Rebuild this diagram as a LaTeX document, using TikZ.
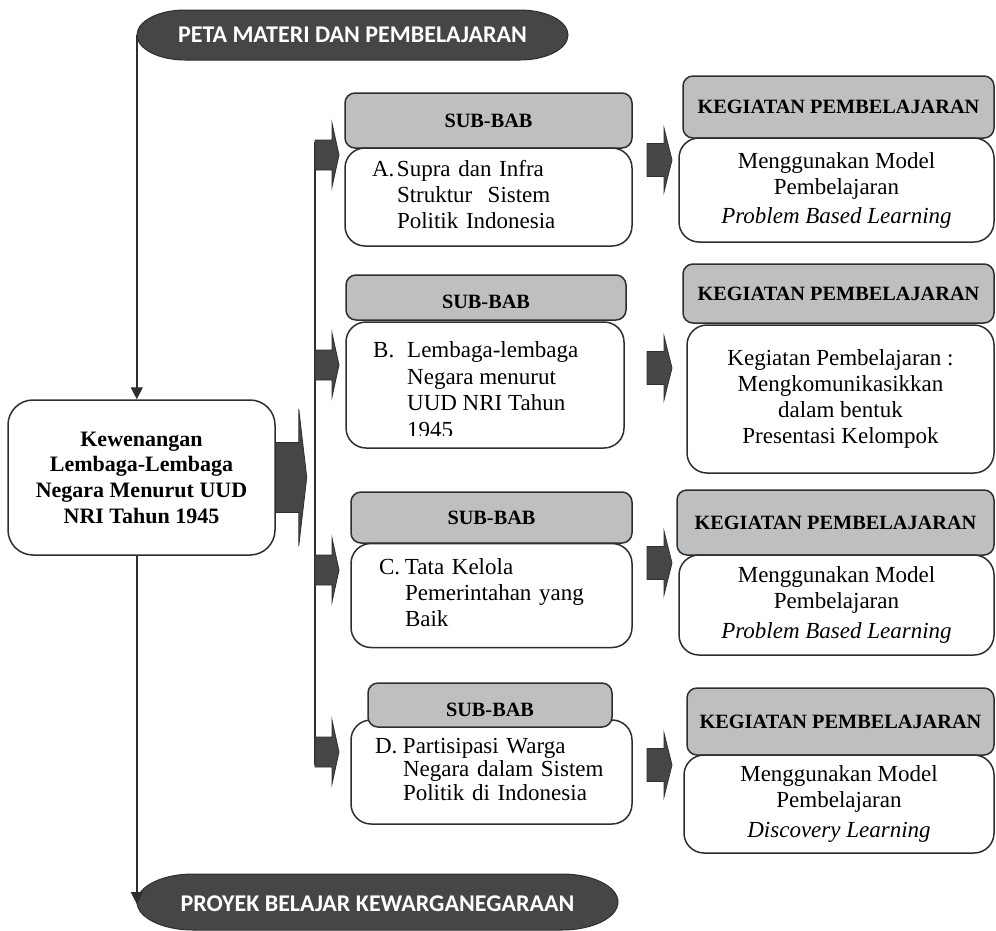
\documentclass[tikz,border=0pt]{standalone}
\usepackage{fontspec}
\setmainfont{Liberation Serif}
\newfontfamily\pitafont{Carlito}
\usepackage{tikz}
\usetikzlibrary{arrows.meta}

\definecolor{gelap}{HTML}{454648}
\definecolor{abu}{HTML}{BEBFC1}
\definecolor{garis}{HTML}{2E2E2E}

\tikzset{
    utama/.style={draw=garis, fill=white, line width=1.5pt, rounded corners=25pt,
        inner sep=0pt, align=center, font=\fontsize{22}{25.7}\selectfont\bfseries},
    kepala/.style={draw=garis, fill=abu, line width=1.5pt, rounded corners=10pt,
        inner sep=0pt, font=\fontsize{20.3}{24}\selectfont\bfseries},
    isi/.style={draw=garis, fill=white, line width=1.5pt, rounded corners=20pt,
        inner sep=0pt, align=center, font=\fontsize{23}{26}\selectfont},
    pitateks/.style={inner sep=0pt, text=white,
        font=\pitafont\fontsize{24}{28}\selectfont\bfseries},
    garispanah/.style={draw=garis, line width=1.4pt, -{Triangle[width=12pt,length=12pt]}},
}

% banner: x kiri, x kanan, y atas, y bawah, jari-jari x
\newcommand{\pita}[5]{%
  \filldraw[fill=gelap, draw=garis, line width=1pt]
    ({#1+#5},#3) -- ({#2-#5},#3)
    .. controls ({#2-0.4477*#5},#3) and (#2,{(#3+#4)/2-0.5523*(#4-#3)/2}) .. (#2,{(#3+#4)/2})
    .. controls (#2,{(#3+#4)/2+0.5523*(#4-#3)/2}) and ({#2-0.4477*#5},#4) .. ({#2-#5},#4)
    -- ({#1+#5},#4)
    .. controls ({#1+0.4477*#5},#4) and (#1,{(#3+#4)/2+0.5523*(#4-#3)/2}) .. (#1,{(#3+#4)/2})
    .. controls (#1,{(#3+#4)/2-0.5523*(#4-#3)/2}) and ({#1+0.4477*#5},#3) .. ({#1+#5},#3)
    -- cycle;}

% panah blok: titik awal, panjang batang, panjang kepala, setengah batang, setengah kepala
\newcommand{\panah}[5]{%
  \filldraw[fill=gelap, draw=garis, line width=0.8pt]
    (#1) ++(0,-#4) -- ++(#2,0) -- ++(0,{-(#5-#4)}) -- ++(#3,#5)
    -- ++(-#3,#5) -- ++(0,{-(#5-#4)}) -- ++(-#2,0) -- cycle;}

\newcommand{\butir}[3]{\begin{tabular}{@{}p{#2}@{}l@{}}#1&#3\end{tabular}}

\begin{document}
\begin{tikzpicture}[x=1pt, y=-1pt]
\useasboundingbox (0,0) rectangle (996,930);

% judul atas dan bawah
\pita{137}{568}{10}{60}{48}
\node[pitateks, minimum width=431pt, minimum height=50pt] (peta) at (352.5,35) {PETA MATERI DAN PEMBELAJARAN};
\pita{137}{618}{874}{930}{56}
\node[pitateks, minimum width=481pt, minimum height=56pt] (proyek) at (377.5,904) {PROYEK BELAJAR KEWARGANEGARAAN};

% kotak utama
\node[utama, minimum width=267pt, minimum height=155pt] (utama) at (141.5,477.5)
    {Kewenangan\\Lembaga-Lembaga\\Negara Menurut UUD\\NRI Tahun 1945};
\draw[garispanah] (peta.west) -- (peta.west |- utama.north);
\draw[garispanah] (peta.west |- utama.south) -- (proyek.west);
\panah{utama.east}{23}{8}{35}{68.5}

% garis cabang
\coordinate (busatas) at (315,142);
\coordinate (busbawah) at (315,765);
\draw[draw=garis, line width=1.5pt] (busatas) -- (busbawah);
\panah{315,155}{17}{7}{15}{32}
\panah{315,365}{17}{7}{15}{32}
\panah{315,570}{17}{7}{15}{32}
\panah{315,752}{17}{7}{15}{32}

% sub-bab
\node[kepala, minimum width=287pt, minimum height=55pt] (subA) at (488.5,120.5) {SUB-BAB};
\node[isi, minimum width=287pt, minimum height=98pt, text width=233pt, inner xsep=27pt, align=left] (isiA) at (488.5,197)
    {\butir{A.}{25pt}{Supra dan Infra\\&Struktur~~Sistem\\&Politik Indonesia}};

\node[kepala, minimum width=280pt, minimum height=45pt, text height=22.5pt, text depth=0pt] (subB) at (486,297.5) {SUB-BAB};
\node[isi, minimum width=278pt, minimum height=126pt] (isiB) at (485,385) {};
\begin{scope}
\clip (340,322) rectangle (630,435);
\node[inner sep=0pt, anchor=north west, font=\fontsize{23}{26.7}\selectfont] (teksB) at (373,338.5)
    {\butir{B.}{34pt}{Lembaga-lembaga\\&Negara menurut\\&UUD NRI Tahun\\&1945}};
\end{scope}

\node[kepala, minimum width=281pt, minimum height=51pt] (subC) at (491.5,517.5) {SUB-BAB};
\node[isi, minimum width=281pt, minimum height=104pt, text width=225pt, inner xsep=28pt, align=left] (isiC) at (491.5,595.5)
    {\butir{C.}{26pt}{Tata Kelola\\&Pemerintahan yang\\&Baik}};

\node[isi, minimum width=281pt, minimum height=104pt, text width=233pt, inner xsep=24pt, align=left,
    font=\fontsize{23}{23.5}\selectfont] (isiD) at (491.5,772)
    {\butir{D.}{28pt}{Partisipasi Warga\\&Negara dalam Sistem\\&Politik di Indonesia}};
\node[kepala, minimum width=244pt, minimum height=44pt, text height=23.5pt, text depth=0pt] (subD) at (490,705) {SUB-BAB};

% kegiatan pembelajaran
\panah{647,160}{17}{8}{16.5}{32}
\panah{647,368}{17}{8}{16.5}{32}
\panah{647,563}{17}{8}{16.5}{32}
\panah{647,765}{17}{8}{16.5}{32}

\node[kepala, minimum width=311pt, minimum height=62pt] (kgA) at (838.5,107) {KEGIATAN PEMBELAJARAN};
\node[isi, minimum width=315pt, minimum height=104pt] (kgisiA) at (836.5,190)
    {Menggunakan Model\\Pembelajaran\\[3pt]\textit{Problem Based Learning}};

\node[kepala, minimum width=311pt, minimum height=59pt] (kgB) at (838.5,293.5) {KEGIATAN PEMBELAJARAN};
\node[isi, minimum width=307pt, minimum height=148pt] (kgisiB) at (840.5,399)
    {Kegiatan Pembelajaran :\\Mengkomunikasikkan\\dalam bentuk\\Presentasi Kelompok};

\node[kepala, minimum width=317pt, minimum height=65pt] (kgC) at (835.5,522.5) {KEGIATAN PEMBELAJARAN};
\node[isi, minimum width=315pt, minimum height=100pt] (kgisiC) at (836.5,605)
    {Menggunakan Model\\Pembelajaran\\[4pt]\textit{Problem Based Learning}};

\node[kepala, minimum width=307pt, minimum height=67pt] (kgD) at (840.5,721.5) {KEGIATAN PEMBELAJARAN};
\node[isi, minimum width=310pt, minimum height=98pt] (kgisiD) at (839,804)
    {Menggunakan Model\\Pembelajaran\\[4pt]\textit{Discovery Learning}};
\end{tikzpicture}
\end{document}
